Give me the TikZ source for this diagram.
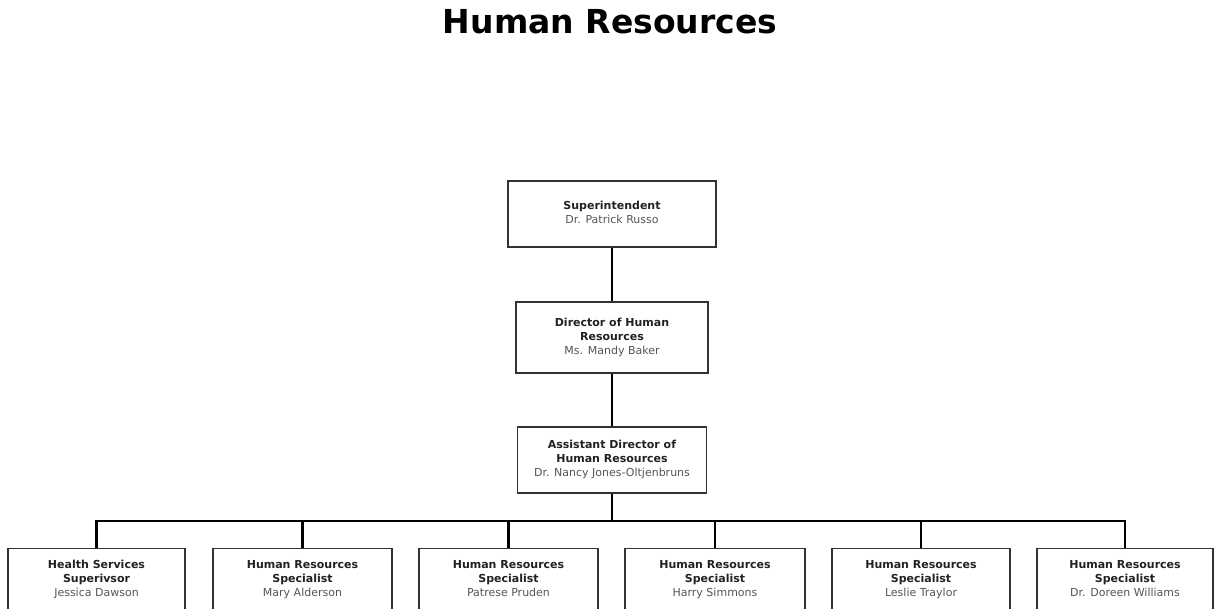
\documentclass[tikz,border=0pt]{standalone}
\usepackage{fontspec}
\setmainfont{DejaVu Sans}
\definecolor{boxline}{HTML}{333333}
\definecolor{titletext}{HTML}{222222}
\definecolor{nametext}{HTML}{555555}
\tikzset{
  orgbox/.style={draw=boxline, line width=1.3pt, fill=white, align=center,
    text=titletext, font=\fontsize{11}{14}\selectfont, inner sep=0pt},
  conn/.style={draw=black, line width=2.4pt},
}
\newcommand{\pname}[1]{\textcolor{nametext}{#1}\strut}
\newcommand{\fline}[1]{\strut\textbf{#1}}
\begin{document}
\begin{tikzpicture}[x=1pt,y=-1pt]
\useasboundingbox (0,0) rectangle (1214,609);
\clip (0,0) rectangle (1214,609);
\node[font=\fontsize{33}{36}\selectfont\bfseries, text=black] (title) at (610,22) {Human Resources};

\node[orgbox, minimum width=208, minimum height=66] (sup) at (612,214) {\fline{Superintendent}\\\pname{Dr. Patrick Russo}};
\node[orgbox, minimum width=192, minimum height=71] (dir) at (612,337.5) {\fline{Director of Human}\\\textbf{Resources}\\\pname{Ms. Mandy Baker}};
\node[orgbox, minimum width=189, minimum height=66] (ast) at (612,460) {\fline{Assistant Director of}\\\textbf{Human Resources}\\\pname{Dr. Nancy Jones-Oltjenbruns}};

\coordinate (bus) at (612,521);
\draw[conn] (sup.south) -- (dir.north);
\draw[conn] (dir.south) -- (ast.north);
\draw[conn] (ast.south) -- (bus);

\foreach \n/\x/\w/\ta/\tb/\p in {
  b1/96.5/177/Health Services/Superivsor/Jessica Dawson,
  b2/302.5/179/Human Resources/Specialist/Mary Alderson,
  b3/508.5/179/Human Resources/Specialist/Patrese Pruden,
  b4/715/180/Human Resources/Specialist/Harry Simmons,
  b5/921/178/Human Resources/Specialist/Leslie Traylor,
  b6/1125/176/Human Resources/Specialist/Dr. Doreen Williams}{
  \node[orgbox, minimum width=\w, minimum height=62, anchor=north] (\n) at (\x,548) {\fline{\ta}\\\textbf{\tb}\\\pname{\p}};
}
\draw[conn] (b1.north) -- ++(0,-27) -| (b6.north);
\foreach \n in {b2,b3,b4,b5}{
  \draw[conn] (\n.north) -- ++(0,-27);
}
\end{tikzpicture}
\end{document}
